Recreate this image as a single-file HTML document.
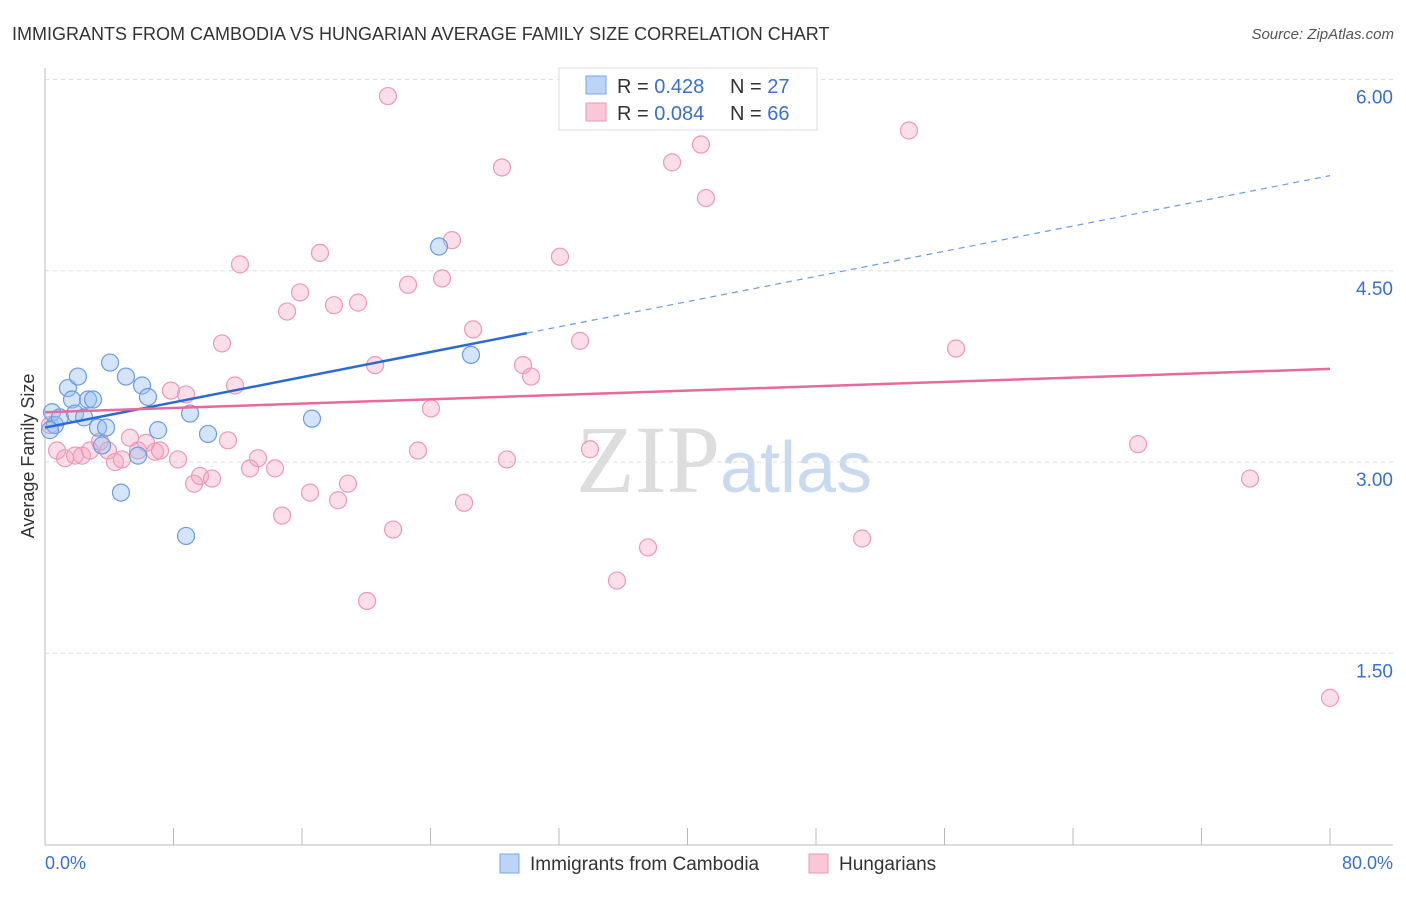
<!DOCTYPE html>
<html><head><meta charset="utf-8"><style>
body{margin:0;background:#fff;font-family:"Liberation Sans",sans-serif;}
</style></head><body>
<svg width="1406" height="892" xmlns="http://www.w3.org/2000/svg" id="chart" font-family="Liberation Sans, sans-serif">
<text x="12" y="40" font-size="18" fill="#333">IMMIGRANTS FROM CAMBODIA VS HUNGARIAN AVERAGE FAMILY SIZE CORRELATION CHART</text>
<text x="1394" y="39" font-size="15" fill="#555" text-anchor="end" font-style="italic">Source: ZipAtlas.com</text>
<text x="720" y="492" font-size="96" fill="#ddd" text-anchor="end" font-family="Liberation Serif, serif">ZIP</text>
<text x="720" y="492" font-size="72" fill="#c9daf0">atlas</text>
<g id="grid"></g><g id="axes"></g><g id="marks"></g>
<text transform="translate(34,456) rotate(-90)" font-size="18" fill="#333" text-anchor="middle">Average Family Size</text>
<text x="45" y="869" font-size="18" fill="#3a6fd0">0.0%</text>
<text x="1393" y="869" font-size="18" fill="#3a6fd0" text-anchor="end">80.0%</text>
<g>
<rect x="559" y="68" width="258" height="62" fill="#fff" stroke="#ddd"/>
<rect x="586" y="76" width="20" height="18" fill="#bcd4f5" stroke="#7aa6e6"/>
<rect x="586" y="103" width="20" height="18" fill="#f9c7d6" stroke="#ec9ab4"/>
<text x="617" y="93" font-size="20" fill="#333">R = <tspan fill="#3a6fd0">0.428</tspan><tspan x="730">N = </tspan><tspan fill="#3a6fd0">27</tspan></text>
<text x="617" y="120" font-size="20" fill="#333">R = <tspan fill="#3a6fd0">0.084</tspan><tspan x="730">N = </tspan><tspan fill="#3a6fd0">66</tspan></text>
</g>
<g>
<rect x="500" y="854" width="19" height="19" fill="#bcd4f5" stroke="#7aa6e6"/>
<text x="530" y="870" font-size="19" fill="#333">Immigrants from Cambodia</text>
<rect x="809" y="854" width="19" height="19" fill="#f9c7d6" stroke="#ec9ab4"/>
<text x="839" y="870" font-size="19" fill="#333">Hungarians</text>
</g>
</svg>
<script>
const yTicks=[1.5,3.0,4.5,6.0];
const yTickLabels=["1.50","3.00","4.50","6.00"];
const xTicks=[0,8,16,24,32,40,48,56,64,72,80];
const blueX=[0.44,0.62,0.93,1.43,1.68,1.87,2.05,2.43,2.68,2.99,3.30,3.55,3.80,4.05,4.73,5.04,5.79,6.04,6.41,7.04,8.78,9.03,10.15,16.62,24.53,26.52,0.31];
const blueY=[3.39,3.29,3.35,3.58,3.49,3.38,3.67,3.35,3.49,3.49,3.27,3.13,3.27,3.78,2.76,3.67,3.05,3.60,3.51,3.25,2.42,3.38,3.22,3.34,4.69,3.84,3.25];
const pinkX=[0.31,0.75,1.25,1.87,2.30,2.80,3.42,3.92,4.36,4.79,5.29,5.79,6.29,6.85,7.16,7.84,8.28,8.78,9.28,9.65,10.40,11.02,11.39,11.83,12.14,12.76,13.26,14.32,14.76,15.07,15.88,16.50,17.12,17.99,18.24,18.86,19.49,20.05,20.55,21.35,21.67,22.60,23.22,24.03,24.72,25.34,26.09,26.65,28.45,28.76,29.76,30.26,32.06,33.31,33.93,35.61,37.54,39.04,40.84,41.15,50.87,53.79,56.72,68.05,75.02,80.00];
const pinkY=[3.29,3.09,3.03,3.05,3.05,3.09,3.16,3.09,3.00,3.02,3.19,3.09,3.15,3.08,3.09,3.56,3.02,3.53,2.83,2.89,2.87,3.93,3.17,3.60,4.55,2.95,3.03,2.95,2.58,4.18,4.33,2.76,4.64,4.23,2.70,2.83,4.25,1.91,3.76,5.87,2.47,4.39,3.09,3.42,4.44,4.74,2.68,4.04,5.31,3.02,3.76,3.67,4.61,3.95,3.10,2.07,2.33,5.35,5.49,5.07,2.40,5.60,3.89,3.14,2.87,1.15];
const blueTrend=[3.27,0.0247];
const pinkTrend=[3.39,0.00425];
const NS="http://www.w3.org/2000/svg";
const sx=v=>45+v/80*1285;
const sy=v=>462-(v-3)*127.5;
function mk(t,a,p){const e=document.createElementNS(NS,t);for(const k in a)e.setAttribute(k,a[k]);p.appendChild(e);return e;}
const grid=document.getElementById('grid'),axes=document.getElementById('axes'),marks=document.getElementById('marks');
yTicks.forEach((t,i)=>{
 const l=mk('line',{x1:45,x2:1393,y1:sy(t),y2:sy(t),stroke:'#ddd','stroke-dasharray':'4,4'},grid);
 
 
 const tx=mk('text',{x:1393,y:sy(t)+24,'font-size':19,fill:'#3a6fd0','text-anchor':'end'},grid);
 tx.textContent=yTickLabels[i];
 
 
});
const ya=mk('line',{x1:45,x2:45,y1:68,y2:845,stroke:'#bbb'},axes);


const xa=mk('line',{x1:45,x2:1393,y1:845,y2:845,stroke:'#bbb'},axes);


xTicks.forEach(t=>{
 const l=mk('line',{x1:sx(t),x2:sx(t),y1:828,y2:845,stroke:'#bbb'},axes);
 
 
});
pinkX.forEach((x,i)=>{
 const c=mk('circle',{cx:sx(x),cy:sy(pinkY[i]),r:8.5,fill:'rgba(244,160,188,0.35)',stroke:'#ec9ab4','stroke-width':1.2},marks);
 
 
});
blueX.forEach((x,i)=>{
 const c=mk('circle',{cx:sx(x),cy:sy(blueY[i]),r:8.5,fill:'rgba(150,190,240,0.4)',stroke:'#6b9be0','stroke-width':1.2},marks);
 
 
});
const tb=(x,tr)=>tr[0]+tr[1]*x;
const b1=mk('line',{x1:sx(0),y1:sy(tb(0,blueTrend)),x2:sx(30),y2:sy(tb(30,blueTrend)),stroke:'#2a6ad6','stroke-width':2.5},marks);


const b2=mk('line',{x1:sx(30),y1:sy(tb(30,blueTrend)),x2:sx(80),y2:sy(tb(80,blueTrend)),stroke:'#6b9be0','stroke-width':1.2,'stroke-dasharray':'6,5'},marks);


const p1=mk('line',{x1:sx(0),y1:sy(tb(0,pinkTrend)),x2:sx(80),y2:sy(tb(80,pinkTrend)),stroke:'#e8699a','stroke-width':2.5},marks);


</script>
</body></html>
